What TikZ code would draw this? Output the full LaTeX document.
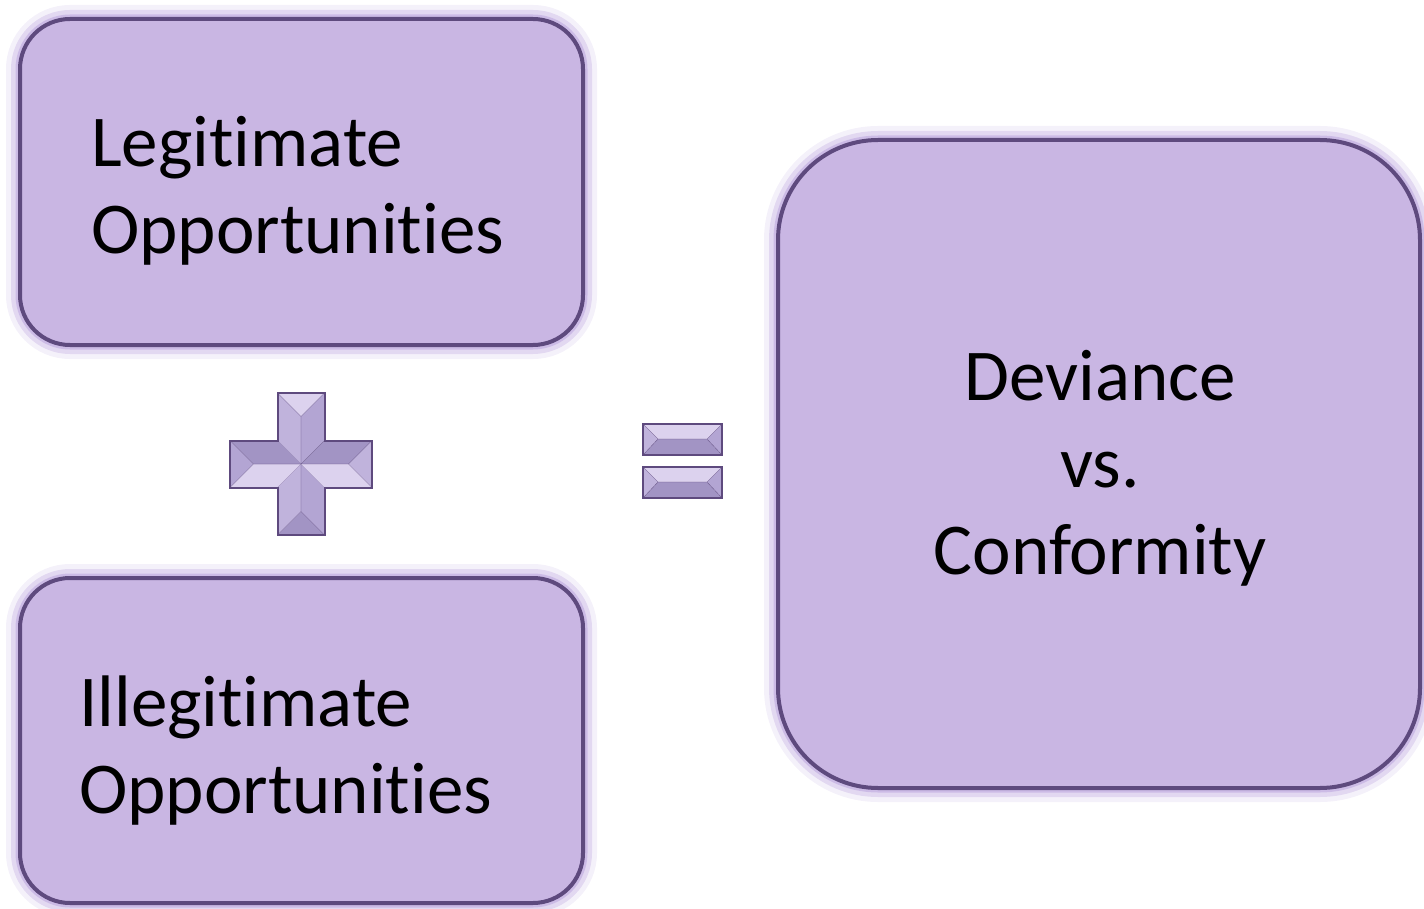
\documentclass[tikz,border=0pt]{standalone}
\usepackage{fontspec}
\setmainfont{Carlito}[Ligatures={NoCommon,NoContextual}]
\usepackage{tikz}
\usetikzlibrary{calc}
\definecolor{boxfill}{HTML}{C9B6E3}
\definecolor{boxline}{HTML}{5E4A7E}
\definecolor{glow}{HTML}{B79FDC}
\definecolor{facelight}{HTML}{DCD2EE}
\definecolor{faceleft}{HTML}{C0B3DC}
\definecolor{faceright}{HTML}{B3A5D3}
\definecolor{facedark}{HTML}{A294C4}
\tikzset{
    opbox/.style={draw=boxline, line width=4pt, fill=boxfill,
        rounded corners=50pt, inner sep=0pt,
        preaction={draw=glow, line width=28pt, opacity=0.15},
        preaction={draw=glow, line width=18pt, opacity=0.3},
        preaction={draw=glow, line width=9pt, opacity=0.5}},
    bigtext/.style={font=\fontsize{73}{87}\selectfont, inner sep=0pt},
    facet/.style={draw=boxline, line width=0.3pt},
}
\begin{document}
\begin{tikzpicture}[x=1pt, y=-1pt]
\useasboundingbox (0,0) rectangle (1424,909);
    %boxes
    \node[opbox, minimum width=563pt, minimum height=326pt] (legit) at (301.5,182) {};
    \node[opbox, minimum width=563pt, minimum height=325pt] (illegit) at (301.5,740.5) {};
    \node[opbox, rounded corners=100pt, minimum width=642pt, minimum height=648pt] (result) at (1099,464) {};
    %labels, base = last line
    \node[bigtext, anchor=base west, align=left] (legittext) at (91,254) {Legitimate\\Opportunities};
    \node[bigtext, anchor=base west, align=left] (illegittext) at (79,813) {Illegitimate\\Opportunities};
    \node[bigtext, anchor=base, align=center] (resulttext) at (1100,574) {Deviance\\vs.\\Conformity};
    %plus sign
    \begin{scope}[shift={(301,464)}]
    \def\w{23.5}    %half arm width
    \def\l{71}      %half arm length
    \foreach \a/\c/\lf/\rf in {0/facelight/faceleft/faceright, 90/faceright/facelight/facedark,
        180/facedark/faceright/faceleft, 270/faceleft/facedark/facelight}
    {
        \begin{scope}[rotate=\a]
        \fill[\c] (-\w,-\l) -- (\w,-\l) -- (0,-\l+\w) -- cycle;
        \fill[\lf] (-\w,-\l) -- (0,-\l+\w) -- (0,0) -- (-\w,-\w) -- cycle;
        \fill[\rf] (\w,-\l) -- (0,-\l+\w) -- (0,0) -- (\w,-\w) -- cycle;
        \draw[facet] (-\w,-\l) -- (0,-\l+\w) -- (\w,-\l);
        \draw[facet] (0,-\l+\w) -- (0,0) -- (-\w,-\w);
        \end{scope}
    }
    \draw[boxline, line width=2pt] (-\w,-\l) -- (\w,-\l) -- (\w,-\w) -- (\l,-\w) -- (\l,\w) -- (\w,\w)
        -- (\w,\l) -- (-\w,\l) -- (-\w,\w) -- (-\l,\w) -- (-\l,-\w) -- (-\w,-\w) -- cycle;
    \end{scope}
    %equals sign
    \foreach \y in {424,467}
    {
        \begin{scope}[shift={(643,\y)}]
        \fill[facelight] (0,0) -- (79,0) -- (64,15) -- (15,15) -- cycle;
        \fill[facedark] (0,31) -- (79,31) -- (64,15) -- (15,15) -- cycle;
        \fill[faceleft] (0,0) -- (15,15) -- (0,31) -- cycle;
        \fill[faceright] (79,0) -- (64,15) -- (79,31) -- cycle;
        \draw[facet] (0,0) -- (15,15) -- (0,31) (79,0) -- (64,15) -- (79,31) (15,15) -- (64,15);
        \draw[boxline, line width=2pt] (0,0) rectangle (79,31);
        \end{scope}
    }
\end{tikzpicture}
\end{document}
